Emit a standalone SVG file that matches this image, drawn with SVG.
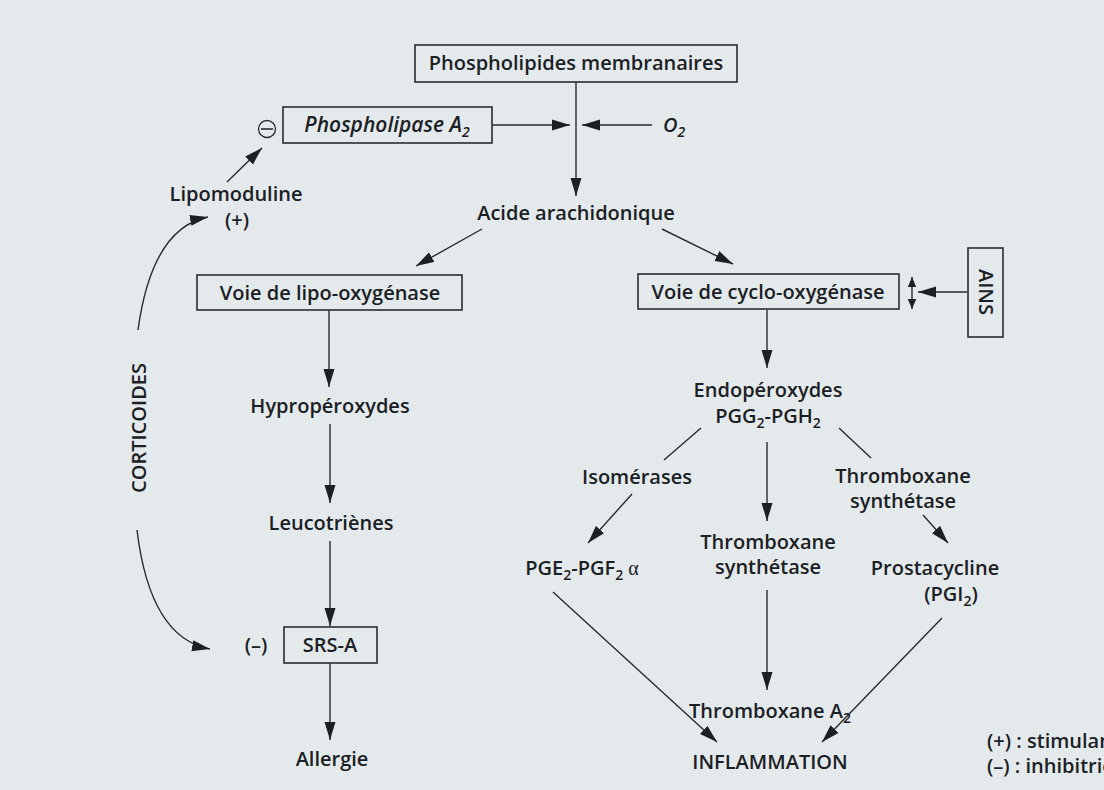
<svg xmlns="http://www.w3.org/2000/svg" width="1104" height="790" viewBox="0 0 1104 790">
  <defs>
    <style>
      .t{font-family:"Open Sans","Noto Sans","DejaVu Sans",sans-serif;font-size:20px;font-weight:600;fill:#1b2024;text-anchor:middle}
      .i{font-style:italic}
      .sub{font-size:14px}
      .box{fill:none;stroke:#262c30;stroke-width:1.6}
      .ln{fill:none;stroke:#262c30;stroke-width:1.4}
      .arr{marker-end:url(#ah)}
    </style>
    <marker id="ah" markerUnits="userSpaceOnUse" markerWidth="20" markerHeight="12" refX="18" refY="6" orient="auto">
      <path d="M0,0.5 L18,6 L0,11.5 z" fill="#1b2024"/>
    </marker>
    <marker id="ahs" markerUnits="userSpaceOnUse" markerWidth="12" markerHeight="10" refX="10" refY="5" orient="auto-start-reverse">
      <path d="M0,0.8 L10,5 L0,9.2 z" fill="#1b2024"/>
    </marker>
  </defs>

  <!-- paper -->
  <rect width="1104" height="790" fill="#e4eaec"/>

  <!-- connectors -->
  <g id="connectors">
    <line class="ln arr" x1="576" y1="82" x2="576" y2="196"/>
    <line class="ln arr" x1="492" y1="125" x2="570" y2="125"/>
    <line class="ln arr" x1="652" y1="125" x2="582" y2="125"/>
    <line class="ln arr" x1="227" y1="182" x2="262" y2="148"/>
    <line class="ln arr" x1="482" y1="229" x2="416" y2="266"/>
    <line class="ln arr" x1="662" y1="229" x2="733" y2="264"/>
    <line class="ln arr" x1="329" y1="310" x2="329" y2="387"/>
    <line class="ln arr" x1="330" y1="424" x2="330" y2="503"/>
    <line class="ln arr" x1="330" y1="541" x2="330" y2="626"/>
    <line class="ln arr" x1="330" y1="663" x2="330" y2="740"/>
    <line class="ln arr" x1="767" y1="310" x2="767" y2="368"/>
    <line class="ln arr" x1="967" y1="292" x2="918" y2="292"/>
    <line class="ln" x1="912" y1="277" x2="912" y2="309" marker-start="url(#ahs)" marker-end="url(#ahs)"/>
    <line class="ln" x1="701" y1="428" x2="664" y2="460"/>
    <line class="ln arr" x1="632" y1="494" x2="588" y2="543"/>
    <line class="ln arr" x1="767" y1="442" x2="767" y2="521"/>
    <line class="ln" x1="839" y1="428" x2="871" y2="458"/>
    <line class="ln arr" x1="923" y1="515" x2="948" y2="543"/>
    <line class="ln arr" x1="767" y1="590" x2="767" y2="690"/>
    <line class="ln arr" x1="553" y1="592" x2="717" y2="742"/>
    <line class="ln arr" x1="942" y1="618" x2="822" y2="742"/>
    <path class="ln arr" d="M138,330 Q152,228 208,217"/>
    <path class="ln arr" d="M137,530 Q150,638 210,649"/>
  </g>

  <g id="phospholipides">
    <rect class="box" x="415" y="45" width="322" height="37"/>
    <text class="t" x="576" y="70">Phospholipides membranaires</text>
  </g>

  <g id="phospholipase">
    <rect class="box" x="283" y="107" width="209" height="36"/>
    <text class="t i" x="387" y="132" style="font-size:21px">Phospholipase A<tspan class="sub" dy="5">2</tspan></text>
  </g>

  <g id="inhibition-mark">
    <circle cx="267" cy="129" r="8.5" fill="none" stroke="#262c30" stroke-width="1.3"/>
    <line x1="261" y1="129" x2="273" y2="129" stroke="#262c30" stroke-width="1.6"/>
  </g>

  <g id="oxygene">
    <text class="t i" x="674" y="132">O<tspan class="sub" dy="5">2</tspan></text>
  </g>

  <g id="lipomoduline">
    <text class="t" x="236" y="201">Lipomoduline</text>
    <text class="t" x="237" y="227">(+)</text>
  </g>

  <g id="acide-arachidonique">
    <text class="t" x="576" y="220">Acide arachidonique</text>
  </g>

  <g id="corticoides">
    <text class="t" transform="translate(146,428) rotate(-90)">CORTICOIDES</text>
  </g>

  <g id="voie-lipo">
    <rect class="box" x="197" y="275" width="265" height="35"/>
    <text class="t" x="330" y="300">Voie de lipo-oxygénase</text>
  </g>

  <g id="voie-cyclo">
    <rect class="box" x="638" y="274" width="261" height="35"/>
    <text class="t" x="768" y="299">Voie de cyclo-oxygénase</text>
  </g>

  <g id="ains">
    <rect class="box" x="968" y="248" width="35" height="89"/>
    <text class="t" transform="translate(979,292) rotate(90)">AINS</text>
  </g>

  <g id="hyproperoxydes">
    <text class="t" x="330" y="413">Hypropéroxydes</text>
  </g>

  <g id="leucotrienes">
    <text class="t" x="331" y="530">Leucotriènes</text>
  </g>

  <g id="srs-a">
    <rect class="box" x="284" y="627" width="93" height="36"/>
    <text class="t" x="330" y="652">SRS-A</text>
    <text class="t" x="256" y="652">(–)</text>
  </g>

  <g id="allergie">
    <text class="t" x="332" y="766">Allergie</text>
  </g>

  <g id="endoperoxydes">
    <text class="t" x="768" y="397">Endopéroxydes</text>
    <text class="t" x="768" y="423">PGG<tspan class="sub" dy="5">2</tspan><tspan dy="-5">-PGH</tspan><tspan class="sub" dy="5">2</tspan></text>
  </g>

  <g id="isomerases">
    <text class="t" x="637" y="484">Isomérases</text>
  </g>

  <g id="pge2">
    <text class="t" x="582" y="575">PGE<tspan class="sub" dy="5">2</tspan><tspan dy="-5">-PGF</tspan><tspan class="sub" dy="5">2</tspan><tspan dy="-5" font-family="Liberation Serif,serif" font-weight="400"> α</tspan></text>
  </g>

  <g id="thromboxane-synthetase-centre">
    <text class="t" x="768" y="549">Thromboxane</text>
    <text class="t" x="768" y="574">synthétase</text>
  </g>

  <g id="thromboxane-synthetase-droite">
    <text class="t" x="903" y="483">Thromboxane</text>
    <text class="t" x="903" y="508">synthétase</text>
  </g>

  <g id="prostacycline">
    <text class="t" x="935" y="575">Prostacycline</text>
    <text class="t" x="951" y="601">(PGI<tspan class="sub" dy="5">2</tspan><tspan dy="-5">)</tspan></text>
  </g>

  <g id="thromboxane-a2">
    <text class="t" x="770" y="718">Thromboxane A<tspan class="sub" dy="5">2</tspan></text>
  </g>

  <g id="inflammation">
    <text class="t" x="770" y="769">INFLAMMATION</text>
  </g>

  <g id="legende">
    <text class="t" x="987" y="748" style="text-anchor:start">(+) : stimulan</text>
    <text class="t" x="987" y="773" style="text-anchor:start">(–) : inhibitric</text>
  </g>
</svg>
